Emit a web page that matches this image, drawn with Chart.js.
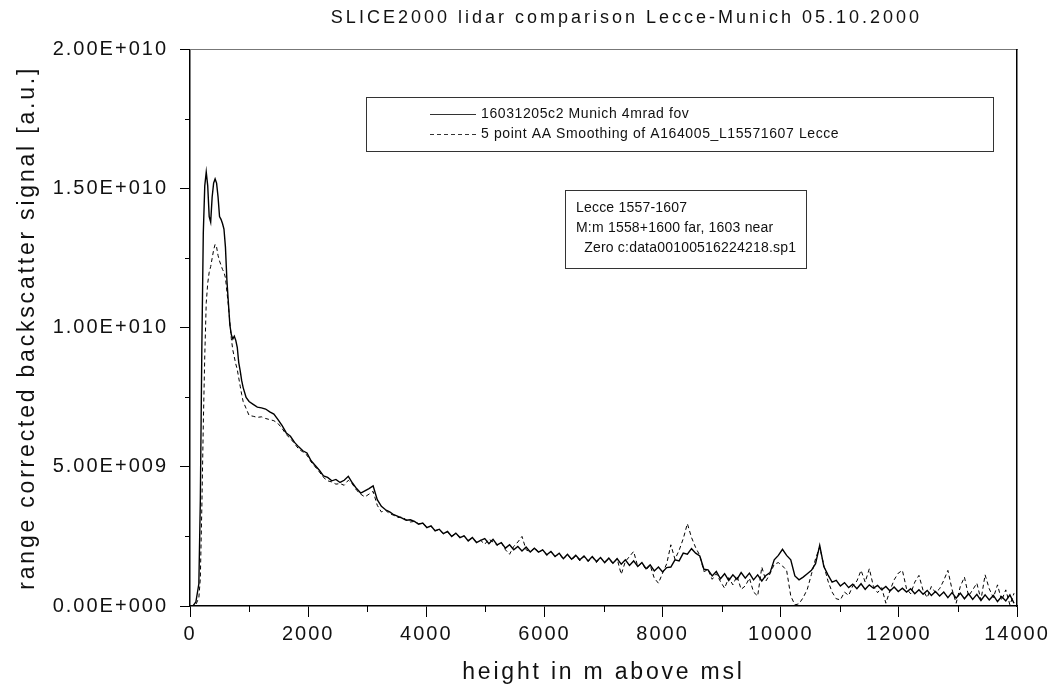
<!DOCTYPE html>
<html>
<head>
<meta charset="utf-8">
<title>SLICE2000 lidar comparison</title>
<script src="https://cdn.jsdelivr.net/npm/chart.js@4.4.1/dist/chart.umd.min.js"></script>
<style>
    html, body { margin: 0; padding: 0; background: #fff; }
    #wrap { width: 1056px; height: 691px; }
</style>
</head>
<body>
<div id="wrap"><canvas id="lidar-chart" width="1056" height="691"></canvas></div>
<script>
// heights in m above msl (shared by both profiles)
const heights = [
    0, 50, 100, 150, 175, 200, 225, 250, 275, 300,
    325, 350, 375, 400, 425, 450, 475, 500, 525, 550,
    575, 600, 625, 650, 675, 700, 725, 750, 775, 800,
    825, 850, 875, 900, 950,
    1000, 1070, 1140, 1210, 1280, 1350, 1420, 1490, 1560, 1630,
    1700, 1770, 1840, 1910, 1980, 2050, 2120, 2190, 2260, 2330,
    2400, 2470, 2540, 2610, 2680, 2750, 2820, 2890, 2960, 3030,
    3100, 3170, 3240, 3310, 3380, 3450, 3520, 3590, 3660, 3730,
    3800, 3870, 3940, 4010, 4080, 4150, 4220, 4290, 4360, 4430,
    4500, 4570, 4640, 4710, 4780, 4850, 4920, 4990, 5060, 5130,
    5200, 5270, 5340, 5410, 5480, 5550, 5620, 5690, 5760, 5830,
    5900, 5970, 6040, 6110, 6180, 6250, 6320, 6390, 6460, 6530,
    6600, 6670, 6740, 6810, 6880, 6950, 7020, 7090, 7160, 7230,
    7300, 7370, 7440, 7510, 7580, 7650, 7720, 7790, 7860, 7930,
    8000, 8070, 8140, 8210, 8280, 8350, 8420, 8490, 8560, 8630,
    8700, 8770, 8840, 8910, 8980, 9050, 9120, 9190, 9260, 9330,
    9400, 9470, 9540, 9610, 9680, 9750, 9820, 9890, 9960, 10030,
    10100, 10170, 10240, 10310, 10380, 10450, 10520, 10590, 10660, 10730,
    10800, 10870, 10940, 11010, 11080, 11150, 11220, 11290, 11360, 11430,
    11500, 11570, 11640, 11710, 11780, 11850, 11920, 11990, 12060, 12130,
    12200, 12270, 12340, 12410, 12480, 12550, 12620, 12690, 12760, 12830,
    12900, 12970, 13040, 13110, 13180, 13250, 13320, 13390, 13460, 13530,
    13600, 13670, 13740, 13810, 13880, 13950
];

// Munich 16031205c2, signal in units of 1E+009
const munichE9 = [
    0, 0, 0.15, 0.8, 3.8, 9.2, 13.4, 15.1, 15.6, 15.1,
    14.0, 13.8, 14.7, 15.2, 15.35, 15.2, 14.7, 14.0, 13.9, 13.75,
    13.55, 12.9, 11.7, 10.9, 10.1, 9.75, 9.6, 9.7, 9.55, 9.3,
    8.75, 8.45, 8.1, 7.85, 7.5,
    7.35, 7.25, 7.15, 7.12, 7.08, 6.98, 6.9, 6.7, 6.48, 6.22,
    6.1, 5.88, 5.72, 5.58, 5.5, 5.22, 5.05, 4.88, 4.68, 4.62,
    4.5, 4.55, 4.44, 4.52, 4.66, 4.42, 4.22, 4.06, 4.14, 4.22,
    4.32, 3.82, 3.58, 3.46, 3.38, 3.28, 3.22, 3.16, 3.08, 3.1,
    3.04, 2.94, 2.98, 2.82, 2.88, 2.7, 2.76, 2.6, 2.68, 2.5,
    2.62, 2.46, 2.52, 2.34, 2.46, 2.28, 2.36, 2.42, 2.24, 2.4,
    2.2, 2.28, 2.08, 2.2, 2.02, 2.14, 1.98, 2.12, 1.94, 2.08,
    1.94, 2.02, 1.84, 1.96, 1.78, 1.9, 1.7, 1.86, 1.68, 1.82,
    1.66, 1.8, 1.62, 1.78, 1.6, 1.74, 1.56, 1.72, 1.54, 1.7,
    1.5, 1.66, 1.46, 1.62, 1.42, 1.56, 1.34, 1.48, 1.26, 1.4,
    1.22, 1.38, 1.4, 1.66, 1.62, 1.9, 1.86, 2.06, 1.9, 1.8,
    1.32, 1.3, 1.08, 1.24, 0.98, 1.16, 0.92, 1.12, 0.96, 1.2,
    1.0, 1.18, 0.94, 1.12, 0.9, 1.1, 1.2, 1.66, 1.82, 2.04,
    1.82, 1.66, 1.08, 0.94, 1.04, 1.16, 1.28, 1.52, 2.18, 1.42,
    1.12, 0.86, 0.92, 0.72, 0.84, 0.66, 0.78, 0.62, 0.8, 0.6,
    0.76, 0.64, 0.74, 0.58, 0.7, 0.54, 0.68, 0.52, 0.64, 0.5,
    0.62, 0.44, 0.58, 0.42, 0.56, 0.38, 0.52, 0.36, 0.5, 0.3,
    0.48, 0.28, 0.46, 0.26, 0.44, 0.24, 0.42, 0.2, 0.4, 0.22,
    0.38, 0.16, 0.34, 0.18, 0.4, 0.1
];

// Lecce A164005_L15571607, 5 point AA smoothing, units of 1E+009
const lecceE9 = [
    0, 0, 0.05, 0.3, 1.0, 3.5, 6.5, 9.0, 10.9, 11.6,
    12.0, 12.2, 12.5, 12.8, 13.0, 12.9, 12.6, 12.4, 12.25, 12.1,
    12.0, 11.8, 11.3, 10.8, 10.2, 9.6, 9.2, 8.95, 8.7, 8.5,
    8.2, 7.9, 7.6, 7.35, 7.1,
    6.85, 6.82, 6.78, 6.8, 6.74, 6.7, 6.66, 6.56, 6.38, 6.16,
    6.02, 5.84, 5.64, 5.54, 5.42, 5.18, 5.0, 4.82, 4.62, 4.5,
    4.46, 4.38, 4.4, 4.34, 4.52, 4.38, 4.16, 4.02, 3.92, 4.02,
    4.12, 3.62, 3.38, 3.44, 3.32, 3.26, 3.18, 3.2, 3.1, 3.02,
    3.04, 2.96, 2.98, 2.84, 2.86, 2.72, 2.74, 2.6, 2.66, 2.52,
    2.6, 2.46, 2.52, 2.36, 2.44, 2.3, 2.36, 2.22, 2.4, 2.3,
    2.18, 2.28, 2.02, 1.86, 2.14, 2.3, 2.5, 2.02, 1.94, 2.1,
    1.92, 2.02, 1.82, 1.96, 1.78, 1.88, 1.68, 1.86, 1.66, 1.8,
    1.62, 1.78, 1.6, 1.76, 1.56, 1.74, 1.58, 1.7, 1.52, 1.7,
    1.14, 1.6, 1.78, 1.96, 1.42, 1.56, 1.3, 1.46, 1.0, 0.82,
    1.18, 1.52, 2.2, 1.68, 2.0, 2.42, 2.96, 2.46, 2.1, 1.82,
    1.24, 1.3, 0.96, 1.16, 0.88, 0.64, 1.02, 0.76, 1.08, 0.6,
    0.72, 1.0, 0.5, 0.36, 1.4, 0.9, 1.16, 1.5, 1.56, 1.44,
    1.28, 0.36, 0.04, 0.08, 0.3, 0.6, 1.14, 1.7, 2.12, 1.46,
    0.9, 0.5, 0.26, 0.22, 0.5, 0.38, 0.72, 0.9, 1.28, 0.86,
    1.34, 0.7, 0.48, 0.66, 0.1, 0.56, 0.94, 1.18, 1.28, 0.62,
    0.44, 0.86, 1.1, 0.56, 0.3, 0.7, 0.48, 0.62, 0.92, 1.28,
    0.6, 0.1, 0.7, 1.04, 0.36, 0.58, 0.82, 0.22, 1.12, 0.62,
    0.3, 0.76, 0.2, 0.58, 0.04, 0.46
];

const seriesLabels = [
    '16031205c2 Munich 4mrad fov',
    '5 point AA Smoothing of A164005_L15571607 Lecce'
];
const noteLines = [
    'Lecce 1557-1607',
    'M:m 1558+1600 far, 1603 near',
    '  Zero c:data00100516224218.sp1'
];
const xMinorTicks = [1000, 3000, 5000, 7000, 9000, 11000, 13000];
const yMinorTicks = [2.5e9, 7.5e9, 1.25e10, 1.75e10];

const FONT = '"Liberation Sans", Arial, Helvetica, sans-serif';

// Origin style exponent labels, e.g. 1.50E+010
function sciLabel(v) {
    if (v === 0) return '0.00E+000';
    const e = Math.floor(Math.log10(v) + 1e-9);
    const m = v / Math.pow(10, e);
    return m.toFixed(2) + 'E+' + String(e).padStart(3, '0');
}

const toPoints = vals => heights.map((h, i) => ({ x: h, y: vals[i] * 1e9 }));

// wraps a draw method so its text gets canvas letter spacing (old plot fonts were wide)
function spaced(obj, fn, spacing, dx) {
    if (!obj || obj['_spaced_' + fn]) return;
    const orig = obj[fn];
    obj['_spaced_' + fn] = true;
    obj[fn] = function (...args) {
        const ctx = this.ctx;
        ctx.save();
        ctx.letterSpacing = spacing;
        if (dx) ctx.translate(dx, 0);
        const r = orig.apply(this, args);
        ctx.restore();
        return r;
    };
}

const spacingPlugin = {
    id: 'spacing',
    afterLayout(chart) {
        spaced(chart.titleBlock, 'draw', '3px', 118);
        spaced(chart.scales.x, 'drawLabels', '2px');
        spaced(chart.scales.y, 'drawLabels', '2px');
        spaced(chart.scales.x, 'drawTitle', '2.8px');
        spaced(chart.scales.y, 'drawTitle', '2.8px');
    }
};

const minorTicksPlugin = {
    id: 'minorTicks',
    afterDraw(chart) {
        const { ctx, chartArea, scales: { x, y } } = chart;
        ctx.save();
        ctx.strokeStyle = '#000';
        ctx.lineWidth = 1;
        ctx.beginPath();
        xMinorTicks.forEach(v => {
            const px = Math.round(x.getPixelForValue(v)) + 0.5;
            ctx.moveTo(px, chartArea.bottom);
            ctx.lineTo(px, chartArea.bottom + 6);
        });
        yMinorTicks.forEach(v => {
            const py = Math.round(y.getPixelForValue(v)) + 0.5;
            ctx.moveTo(chartArea.left, py);
            ctx.lineTo(chartArea.left - 5, py);
        });
        ctx.stroke();
        ctx.restore();
    }
};

// legend box and the note box inside the plot
const boxesPlugin = {
    id: 'boxes',
    afterDraw(chart) {
        const ctx = chart.ctx;
        ctx.save();
        ctx.font = '14px ' + FONT;
        ctx.letterSpacing = '0.6px';
        ctx.fillStyle = '#111';
        ctx.strokeStyle = '#333';
        ctx.lineWidth = 1;
        ctx.textBaseline = 'middle';

        ctx.strokeRect(366.5, 97.5, 627, 54);
        chart.data.datasets.forEach((ds, i) => {
            const yy = 114 + i * 20;
            ctx.setLineDash(ds.borderDash || []);
            ctx.beginPath();
            ctx.moveTo(430, yy + 0.5);
            ctx.lineTo(476, yy + 0.5);
            ctx.stroke();
            ctx.setLineDash([]);
            ctx.fillText(ds.label, 481, yy);
        });

        ctx.strokeRect(565.5, 190.5, 241, 78);
        ctx.letterSpacing = '0.2px';
        noteLines.forEach((t, i) => ctx.fillText(t, 576, 208 + i * 20));
        ctx.restore();
    }
};

const ctx = document.getElementById('lidar-chart').getContext('2d');
new Chart(ctx, {
    type: 'line',
    data: {
        datasets: [
            {
                label: seriesLabels[0],
                data: toPoints(munichE9),
                borderColor: '#000',
                borderWidth: 1.4,
                pointRadius: 0,
                tension: 0
            },
            {
                label: seriesLabels[1],
                data: toPoints(lecceE9),
                borderColor: '#000',
                borderWidth: 1,
                borderDash: [4, 3],
                pointRadius: 0,
                tension: 0
            }
        ]
    },
    options: {
        responsive: false,
        animation: false,
        layout: { padding: { top: 0, right: 39, bottom: 0, left: 0 } },
        plugins: {
            legend: { display: false },
            tooltip: { enabled: false },
            title: {
                display: true,
                text: 'SLICE2000 lidar comparison Lecce-Munich 05.10.2000',
                color: '#111',
                font: { family: FONT, size: 18, weight: 'normal' },
                padding: { top: 7, bottom: 21 }
            }
        },
        scales: {
            x: {
                type: 'linear',
                min: 0,
                max: 14000,
                afterFit: (scale) => { scale.height = 85; },
                ticks: {
                    stepSize: 2000,
                    color: '#111',
                    padding: 5,
                    font: { family: FONT, size: 20 },
                    callback: (v) => String(v)
                },
                grid: { drawOnChartArea: false, drawTicks: true, tickLength: 11, tickColor: '#000' },
                border: { display: true, color: '#000', width: 1.5 },
                title: {
                    display: true,
                    text: 'height in m above msl',
                    color: '#111',
                    font: { family: FONT, size: 23 },
                    padding: { top: 0, bottom: 5 }
                }
            },
            y: {
                min: 0,
                max: 2e10,
                afterFit: (scale) => { scale.width = 190; },
                ticks: {
                    stepSize: 5e9,
                    color: '#111',
                    padding: 12,
                    font: { family: FONT, size: 20 },
                    callback: (v) => sciLabel(v)
                },
                grid: { drawOnChartArea: false, drawTicks: true, tickLength: 10, tickColor: '#000' },
                border: { display: true, color: '#000', width: 1.5 },
                title: {
                    display: true,
                    text: 'range corrected backscatter signal [a.u.]',
                    color: '#111',
                    font: { family: FONT, size: 23 },
                    padding: { top: 14, bottom: 0 }
                }
            },
            x2: {
                axis: 'x',
                position: 'top',
                min: 0,
                max: 1,
                afterFit: (scale) => { scale.height = 0; },
                ticks: { display: false },
                grid: { drawOnChartArea: false, drawTicks: false },
                border: { display: true, color: '#777', width: 1, dash: [1, 1] }
            },
            y2: {
                axis: 'y',
                position: 'right',
                min: 0,
                max: 1,
                afterFit: (scale) => { scale.width = 0; },
                ticks: { display: false },
                grid: { drawOnChartArea: false, drawTicks: false },
                border: { display: true, color: '#000', width: 1.5 }
            }
        }
    },
    plugins: [spacingPlugin, minorTicksPlugin, boxesPlugin]
});
</script>
</body>
</html>
